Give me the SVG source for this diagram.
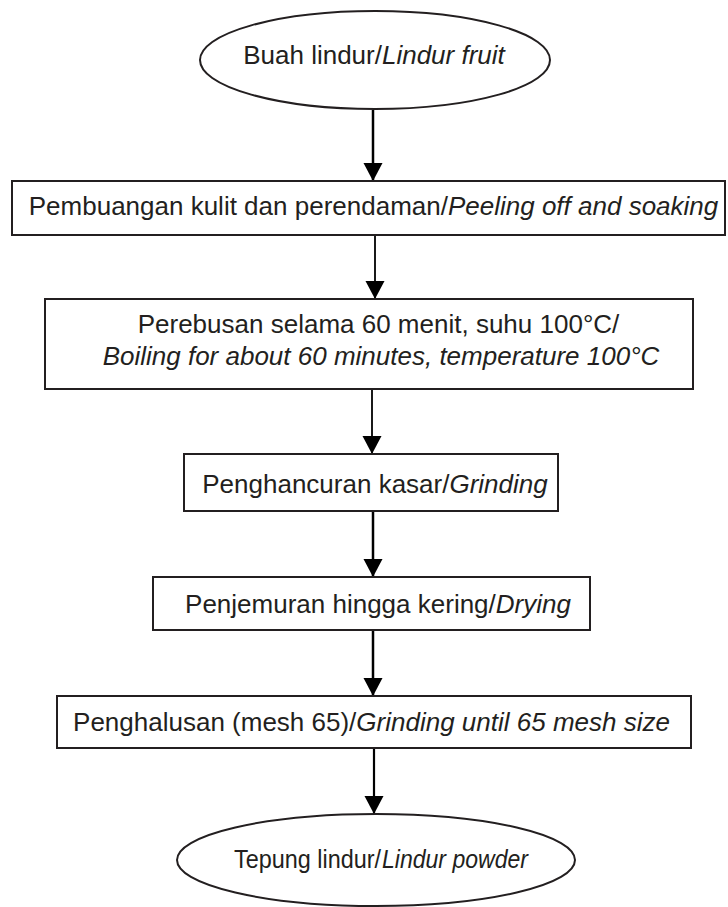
<svg xmlns="http://www.w3.org/2000/svg" width="728" height="907" viewBox="0 0 728 907">
<style>
.shape{fill:#ffffff;stroke:#231f20;stroke-width:2}
.t{font-family:"Liberation Sans",Arial,sans-serif;font-size:26px;fill:#231f20;text-anchor:middle}
.st{text-anchor:start}
.i{font-style:italic}
.c{stroke:#000000;fill:none}
</style>
<defs>
<marker id="ah" markerUnits="userSpaceOnUse" markerWidth="20" markerHeight="20" refX="18" refY="9.5" orient="auto" viewBox="0 0 20 19">
<path d="M0,0 L18,9.5 L0,19 z" fill="#000000"/>
</marker>
</defs>
<rect width="728" height="907" fill="#ffffff"/>
<g id="connectors">
<line class="c" x1="373" y1="110" x2="373" y2="181" stroke-width="2.5" marker-end="url(#ah)"/>
<line class="c" x1="375" y1="235" x2="375" y2="299" stroke-width="1.8" marker-end="url(#ah)"/>
<line class="c" x1="372" y1="389" x2="372" y2="454" stroke-width="1.8" marker-end="url(#ah)"/>
<line class="c" x1="373" y1="511" x2="373" y2="577" stroke-width="2.5" marker-end="url(#ah)"/>
<line class="c" x1="373" y1="630" x2="373" y2="696" stroke-width="2.5" marker-end="url(#ah)"/>
<line class="c" x1="374" y1="748" x2="374" y2="814" stroke-width="2.2" marker-end="url(#ah)"/>
</g>
<g id="n1">
<ellipse class="shape" cx="375" cy="60" rx="175" ry="49"/>
<text class="t" x="374" y="64">Buah lindur/<tspan class="i">Lindur fruit</tspan></text>
</g>
<g id="n2">
<rect class="shape" x="12" y="181" width="713" height="54"/>
<text class="t" x="373.5" y="215">Pembuangan kulit dan perendaman/<tspan class="i">Peeling off and soaking</tspan></text>
</g>
<g id="n3">
<rect class="shape" x="45" y="299" width="648" height="90"/>
<text class="t" x="378.5" y="333">Perebusan selama 60 menit, suhu 100°C/</text>
<text class="t i" x="381" y="365">Boiling for about 60 minutes, temperature 100°C</text>
</g>
<g id="n4">
<rect class="shape" x="184" y="454" width="374" height="57"/>
<text class="t" x="375" y="493">Penghancuran kasar/<tspan class="i">Grinding</tspan></text>
</g>
<g id="n5">
<rect class="shape" x="153" y="577" width="437" height="53"/>
<text class="t" x="378" y="613">Penjemuran hingga kering/<tspan class="i">Drying</tspan></text>
</g>
<g id="n6">
<rect class="shape" x="57" y="696" width="634" height="52"/>
<text class="t" x="371.5" y="731">Penghalusan (mesh 65)/<tspan class="i">Grinding until 65 mesh size</tspan></text>
</g>
<g id="n7">
<ellipse class="shape" cx="376" cy="860" rx="199" ry="46"/>
<text class="t st" x="234" y="868" textLength="147" lengthAdjust="spacingAndGlyphs">Tepung lindur/</text>
<text class="t st i" x="382" y="868" textLength="146" lengthAdjust="spacingAndGlyphs">Lindur powder</text>
</g>
</svg>
